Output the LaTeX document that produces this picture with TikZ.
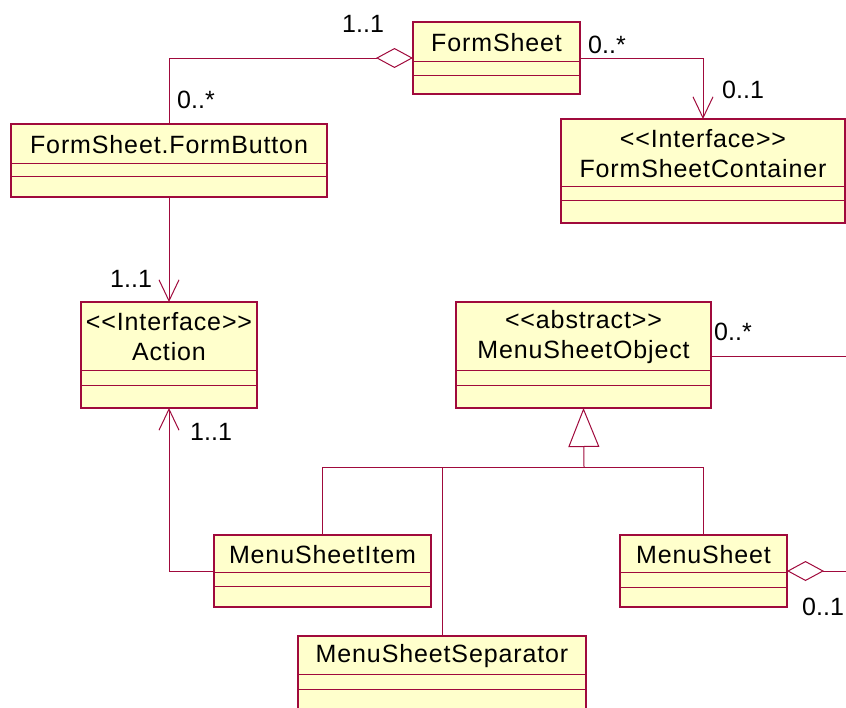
\documentclass[tikz,border=0pt]{standalone}
\usepackage{fontspec}
\setmainfont{Liberation Sans}
\usetikzlibrary{arrows.meta}
\definecolor{umlfill}{RGB}{255, 255, 204}
\definecolor{umlline}{RGB}{160, 10, 60}

\begin{document}
\begin{tikzpicture}[x=1pt, y=-1pt,
        classbox/.style={draw=umlline, fill=umlfill, line width=1.2pt, inner sep=0pt, outer sep=0pt},
        sepline/.style={draw=umlline, line width=1pt},
        assoc/.style={draw=umlline, line width=1pt},
        classname/.style={align=center, inner sep=0pt,
                font=\fontsize{25}{30}\selectfont\addfontfeature{LetterSpace=3.5}},
        mult/.style={inner sep=0pt, font=\fontsize{25}{30}\selectfont},
        navarrow/.style={-{Straight Barb[length=21pt, width=20pt]}},
        aggarrow/.style={{Diamond[open, length=37pt, width=20pt]}-},
        genarrow/.style={-{Triangle[open, length=39pt, width=31pt, fill=white]}}]

        % page size of the reference (pixels as points, y grows downwards)
        \useasboundingbox (0,0) rectangle (846,707);

        % every class: name / left / top / right / bottom / first and second
        % compartment line / text of the name compartment
        \foreach \id / \xa / \ya / \xb / \yb / \la / \lb / \txt in {
                        formsheet/413/22/580/94/61/75/{FormSheet},
                        formbutton/11/124/327/197/163/176/{FormSheet.FormButton},
                        container/561/119/845/223/186/200/{<{}<Interface>{}>\\FormSheetContainer},
                        action/81/302/257/408/370/385/{<{}<Interface>{}>\\Action},
                        menuobject/456/302/711/408/370/385/{<{}<abstract>{}>\\MenuSheetObject},
                        menuitem/214/535/431/607/572/586/{MenuSheetItem},
                        menusheet/620/535/787/607/572/587/{MenuSheet},
                        separator/298/636/586/716/674/689/{MenuSheetSeparator}} {
            % the box itself is a node so that connectors leave from its border
            \node[classbox, anchor=north west,
                  minimum width={(\xb-\xa)*1pt}, minimum height={(\yb-\ya)*1pt}]
                  (\id) at (\xa,\ya) {};
            \draw[sepline] (\xa,\la) -- (\xb,\la) (\xa,\lb) -- (\xb,\lb);
            \node[classname] (\id name) at ({(\xa+\xb)/2},{(\ya+\la)/2+1}) {\txt};
        }

        % free ends of the two associations that leave the picture on the right
        \coordinate (menuobjectout) at (846,356);
        \coordinate (menusheetout) at (846,571);
        % point where the generalization branches meet
        \coordinate (genbus) at (584,467);

        % associations
        \draw[assoc, aggarrow] (formsheet.west) -| (formbutton.north);
        \draw[assoc, navarrow] (formsheet.east) -| (container.north);
        \draw[assoc, navarrow] (formbutton.south) -- (action.north);
        \draw[assoc, navarrow] (menuitem.west) -| (action.south);
        \draw[assoc] (menuobject.east |- menuobjectout) -- (menuobjectout);
        \draw[assoc, aggarrow] (menusheet.east) -- (menusheetout);

        % generalization of the three menu sheet classes
        \draw[assoc, genarrow] (genbus) -- (menuobject.south);
        \draw[assoc] (menuitem.north) |- (genbus);
        \draw[assoc] (menusheet.north) |- (genbus);
        \draw[assoc] (separator.north) -- (separator.north |- genbus);

        % multiplicities: left / baseline / text
        \foreach \x / \y / \txt [count=\i] in {
                        342/32/{1..1}, 588/53/{0..*}, 177/108/{0..*}, 722/98/{0..1},
                        110/287/{1..1}, 190/440/{1..1}, 714/340/{0..*}, 802/615/{0..1}} {
            \node[mult, anchor=base west] (mult\i) at (\x,\y) {\txt};
        }
    \end{tikzpicture}
\end{document}
